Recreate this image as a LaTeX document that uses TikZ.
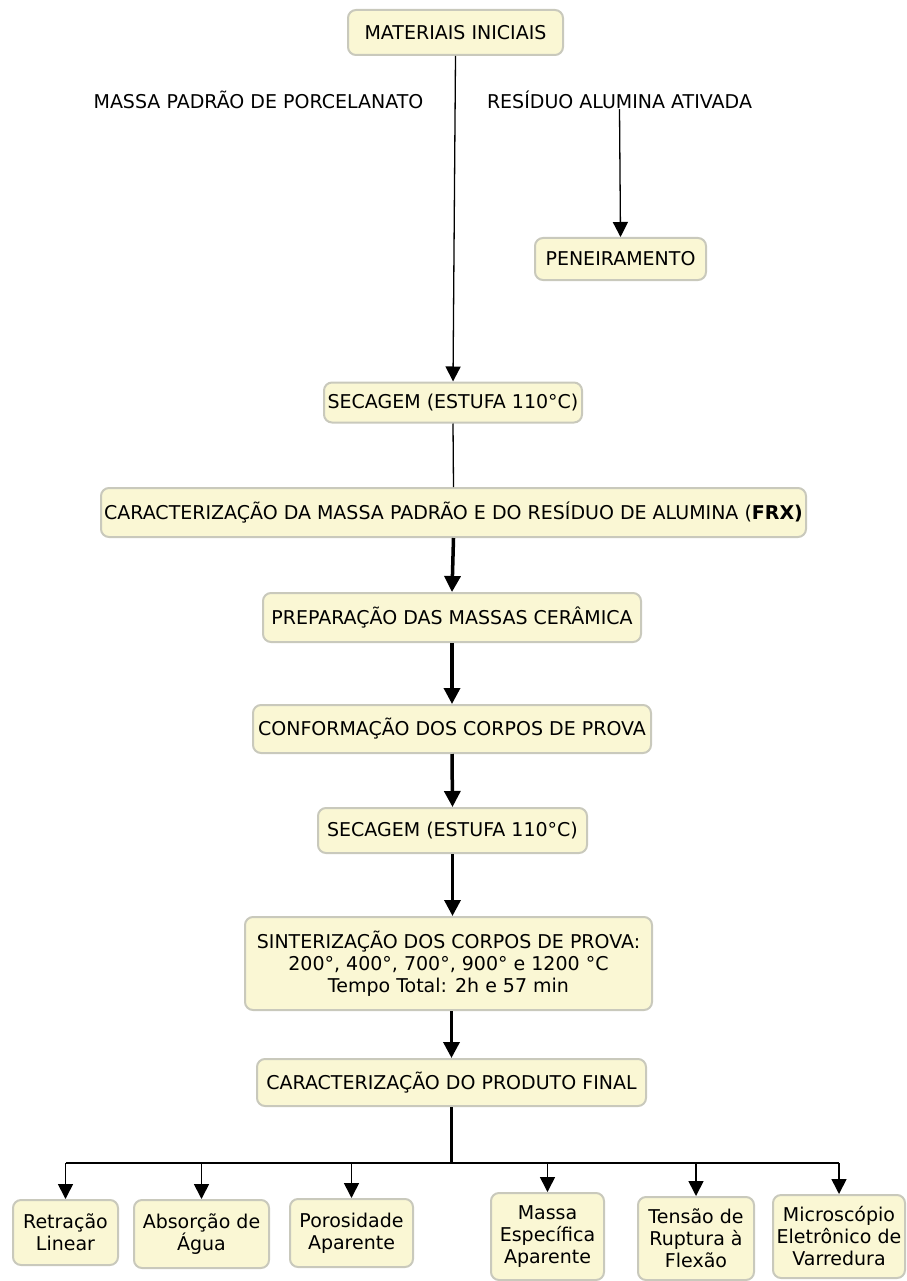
\documentclass[tikz,border=0pt]{standalone}
\usepackage{fontspec}
\setmainfont{DejaVu Sans}
\usetikzlibrary{arrows.meta}
\definecolor{boxfill}{HTML}{FAF7D4}
\definecolor{boxline}{HTML}{C9C9BC}
\tikzset{
  procbox/.style={draw=boxline, line width=2pt, fill=boxfill, rounded corners=8pt,
    inner sep=0pt, align=center, font=\fontsize{19}{22}\selectfont},
  plain/.style={inner sep=0pt, font=\fontsize{19}{22}\selectfont},
  tip/.style={-{Triangle[width=15pt,length=15pt]}},
  thinline/.style={line width=1.3pt},
  thickline/.style={line width=3.5pt},
  thickarrow/.style={line width=3.5pt, -{Triangle[width=16pt,length=16pt]}},
}
\begin{document}
\begin{tikzpicture}[x=1pt,y=-1pt]
\useasboundingbox (0,0) rectangle (906,1281);
% main column
\node[procbox, minimum width=215pt, minimum height=45pt] (mat) at (455.5,32.5) {MATERIAIS INICIAIS};
\node[plain] (massa) at (258.5,100) {MASSA PADRÃO DE PORCELANATO};
\node[plain] (res) at (619.5,100) {RESÍDUO ALUMINA ATIVADA};
\node[procbox, minimum width=171pt, minimum height=42pt] (pen) at (620.5,259) {PENEIRAMENTO};
\node[procbox, minimum width=258pt, minimum height=40pt] (sec1) at (453,402.5) {SECAGEM (ESTUFA 110°C)};
\node[procbox, minimum width=705pt, minimum height=49pt] (carac) at (453.5,512.5) {CARACTERIZAÇÃO DA MASSA PADRÃO E DO RESÍDUO DE ALUMINA (\textbf{FRX)}};
\node[procbox, minimum width=378pt, minimum height=49pt] (prep) at (452,617.5) {PREPARAÇÃO DAS MASSAS CERÂMICA};
\node[procbox, minimum width=398pt, minimum height=48pt] (conf) at (452,729) {CONFORMAÇÃO DOS CORPOS DE PROVA};
\node[procbox, minimum width=269pt, minimum height=45pt] (sec2) at (452.5,830.5) {SECAGEM (ESTUFA 110°C)};
\node[procbox, minimum width=407pt, minimum height=93pt] (sint) at (448.5,963.5) {SINTERIZAÇÃO DOS CORPOS DE PROVA:\\200°, 400°, 700°, 900° e 1200 °C\\Tempo Total: 2h e 57 min};
\node[procbox, minimum width=389pt, minimum height=47pt] (final) at (451.5,1082.5) {CARACTERIZAÇÃO DO PRODUTO FINAL};
% bottom row
\node[procbox, minimum width=105pt, minimum height=65pt] (b1) at (65.5,1232.5) {Retração\\Linear};
\node[procbox, minimum width=135pt, minimum height=68pt] (b2) at (201.5,1234) {Absorção de\\Água};
\node[procbox, minimum width=123pt, minimum height=68pt] (b3) at (351.5,1233) {Porosidade\\Aparente};
\node[procbox, minimum width=113pt, minimum height=87pt] (b4) at (547.5,1236.5) {Massa\\Específica\\Aparente};
\node[procbox, minimum width=116pt, minimum height=83pt] (b5) at (696,1238.5) {Tensão de\\Ruptura à\\Flexão};
\node[procbox, minimum width=132pt, minimum height=83pt] (b6) at (839,1236.5) {Microscópio\\Eletrônico de\\Varredura};
% connectors
\draw[thinline, tip] (mat.south) -- (sec1.north);
\draw[thinline, tip] (res.south) -- (pen.north);
\draw[thinline] (sec1.south) -- (carac.north);
\draw[thickarrow] (carac.south) -- (prep.north);
\draw[thickarrow] (prep.south) -- (conf.north);
\draw[thickarrow] (conf.south) -- (sec2.north);
\draw[thickarrow] (sec2.south) -- (sint.north -| sec2.south);
\draw[thickarrow] (sint.south -| final.north) -- (final.north);
\coordinate (jn) at (451.5,1163);
\coordinate (hl) at (65.5,1163);
\coordinate (hr) at (839,1163);
\draw[thickline] (final.south) -- (jn);
\draw[line width=2.2pt] (hl) -- (hr);
\foreach \b in {b1,b2,b3,b4,b5,b6}
  \draw[line width=1.6pt, tip] (\b.north |- jn) -- (\b.north);
\end{tikzpicture}
\end{document}
